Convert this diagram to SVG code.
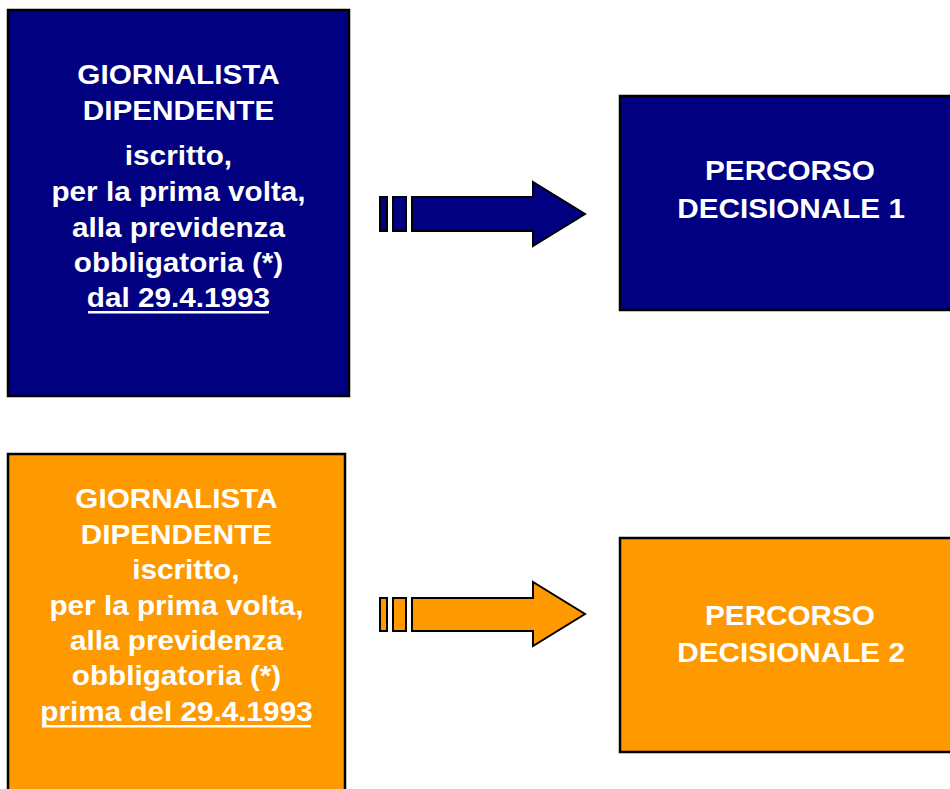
<svg xmlns="http://www.w3.org/2000/svg" width="950" height="789" viewBox="0 0 950 789">
<style>
.box{stroke:#000;stroke-width:2.5}
.blue{fill:#000080}
.orange{fill:#FF9900}
.t{font-family:"Liberation Sans",Arial,sans-serif;font-weight:bold;font-size:27px;fill:#fff;text-anchor:middle}
.ul{fill:#fff}
.arr{stroke:#000;stroke-width:2;stroke-linejoin:miter}
</style>
<rect width="950" height="789" fill="#fff"/>
<g id="node-dip-dal">
<rect class="box blue" x="8" y="10" width="341" height="386"/>
<g transform="matrix(1.1,0,0,1,-17.85,0)">
<text class="t" x="178.5" y="84">GIORNALISTA</text>
<text class="t" x="178.5" y="120">DIPENDENTE</text>
<text class="t" x="178.5" y="165">iscritto,</text>
<text class="t" x="178.5" y="201">per la prima volta,</text>
<text class="t" x="178.5" y="237">alla previdenza</text>
<text class="t" x="178.5" y="272">obbligatoria (*)</text>
<text class="t" x="178.5" y="307">dal 29.4.1993</text>
</g>
<rect class="ul" x="88" y="311" width="181" height="2.5"/>
</g>
<g id="node-percorso-1">
<rect class="box blue" x="620" y="96" width="345" height="214"/>
<g transform="matrix(1.1,0,0,1,-79,0)">
<text class="t" x="790" y="180">PERCORSO</text>
<text class="t" x="791" y="218">DECISIONALE 1</text>
</g>
</g>
<g id="node-dip-prima">
<rect class="box orange" x="8" y="454" width="337" height="345"/>
<g transform="matrix(1.1,0,0,1,-17.65,0)">
<text class="t" x="176.5" y="508">GIORNALISTA</text>
<text class="t" x="176.5" y="544">DIPENDENTE</text>
<text class="t" x="185" y="579">iscritto,</text>
<text class="t" x="176.5" y="615">per la prima volta,</text>
<text class="t" x="176.5" y="650">alla previdenza</text>
<text class="t" x="176.5" y="685">obbligatoria (*)</text>
<text class="t" x="176.5" y="721">prima del 29.4.1993</text>
</g>
<rect class="ul" x="42" y="725" width="269" height="2.5"/>
</g>
<g id="node-percorso-2">
<rect class="box orange" x="620" y="538" width="345" height="214"/>
<g transform="matrix(1.1,0,0,1,-79,0)">
<text class="t" x="790" y="625">PERCORSO</text>
<text class="t" x="791" y="662">DECISIONALE 2</text>
</g>
</g>
<g id="connectors">
<rect class="arr blue" x="380" y="197" width="7" height="34"/>
<rect class="arr blue" x="393" y="197" width="13" height="34"/>
<polygon class="arr blue" points="412,197 533,197 533,182 585,214 533,246 533,231 412,231"/>
<rect class="arr orange" x="380" y="598" width="7" height="33"/>
<rect class="arr orange" x="393" y="598" width="13" height="33"/>
<polygon class="arr orange" points="412,598 533,598 533,582 585,614 533,646 533,631 412,631"/>
</g>
</svg>
